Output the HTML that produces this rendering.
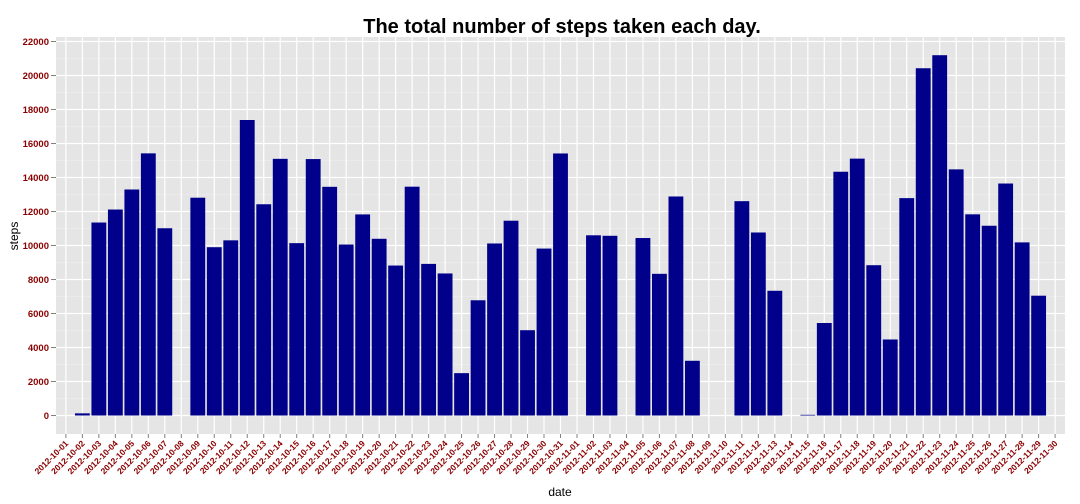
<!DOCTYPE html>
<html><head><meta charset="utf-8"><style>
body{margin:0;background:#fff;}
svg{display:block;font-family:"Liberation Sans",sans-serif;}
</style></head><body>
<svg id="c" width="1080" height="504"></svg>
<script>
const dates=["2012-10-01","2012-10-02","2012-10-03","2012-10-04","2012-10-05","2012-10-06","2012-10-07","2012-10-08","2012-10-09","2012-10-10","2012-10-11","2012-10-12","2012-10-13","2012-10-14","2012-10-15","2012-10-16","2012-10-17","2012-10-18","2012-10-19","2012-10-20","2012-10-21","2012-10-22","2012-10-23","2012-10-24","2012-10-25","2012-10-26","2012-10-27","2012-10-28","2012-10-29","2012-10-30","2012-10-31","2012-11-01","2012-11-02","2012-11-03","2012-11-04","2012-11-05","2012-11-06","2012-11-07","2012-11-08","2012-11-09","2012-11-10","2012-11-11","2012-11-12","2012-11-13","2012-11-14","2012-11-15","2012-11-16","2012-11-17","2012-11-18","2012-11-19","2012-11-20","2012-11-21","2012-11-22","2012-11-23","2012-11-24","2012-11-25","2012-11-26","2012-11-27","2012-11-28","2012-11-29","2012-11-30"];
const steps=[0,126,11352,12116,13294,15420,11015,0,12811,9900,10304,17382,12426,15098,10139,15084,13452,10056,11829,10395,8821,13460,8918,8355,2492,6778,10119,11458,5018,9819,15414,0,10600,10571,0,10439,8334,12883,3219,0,0,12608,10765,7336,0,41,5441,14339,15110,8841,4472,12787,20427,21194,14478,11834,11162,13646,10183,7047,0];
const yTicks=[0,2000,4000,6000,8000,10000,12000,14000,16000,18000,20000,22000];
const NS="http://www.w3.org/2000/svg";
const svg=document.getElementById('c');
const L=56,R=1065,T=37,B=434;
const step=(R-L)/(dates.length-1+1.2);
const xs=i=>L+step*(0.6+i);
const ys=v=>415.5-v*(374/22000);
function mk(t,a,p){const e=document.createElementNS(NS,t);for(const k in a)e.setAttribute(k,a[k]);(p||svg).appendChild(e);return e;}
const panel=mk('rect',{x:L,y:T,width:R-L,height:B-T,fill:'#e5e5e5'});


// minor grid
for(let k=0;k<yTicks.length-1;k++){const v=(yTicks[k]+yTicks[k+1])/2;mk('line',{x1:L,x2:R,y1:ys(v),y2:ys(v),stroke:'#f2f2f2','stroke-width':0.6});}
yTicks.forEach(v=>{
 const g=mk('line',{x1:L,x2:R,y1:ys(v),y2:ys(v),stroke:'#fff','stroke-width':1.2});
 
 
 mk('line',{x1:L-5,x2:L,y1:ys(v),y2:ys(v),stroke:'#7f7f7f','stroke-width':1});
 const t=mk('text',{x:L-7,y:ys(v)+3.5,'text-anchor':'end','font-size':9.5,'font-weight':'bold',fill:'#8b0000'});
 t.textContent=v;
 
 
});
dates.forEach((d,i)=>{
 const x=xs(i);
 mk('line',{x1:x,x2:x,y1:T,y2:B,stroke:'#fff','stroke-width':1.2});
 mk('line',{x1:x,x2:x,y1:B,y2:B+4,stroke:'#7f7f7f','stroke-width':1});
 const t=mk('text',{x:x+3,y:B+10,'text-anchor':'end','font-size':8.5,'font-weight':'bold',fill:'#8b0000',transform:`rotate(-45 ${x+3} ${B+10})`});
 t.textContent=d;
 
 
});
steps.forEach((v,i)=>{
 if(v<=0)return;
 const w=step*0.9;
 const r=mk('rect',{x:xs(i)-w/2,y:ys(v),width:w,height:ys(0)-ys(v),fill:'#00008b'});
 
 
});
const ti=mk('text',{x:562,y:33,'text-anchor':'middle','font-size':20,'font-weight':'bold',fill:'#000'});
ti.textContent='The total number of steps taken each day.';


const xl=mk('text',{x:560,y:496,'text-anchor':'middle','font-size':12,fill:'#000'});
xl.textContent='date';


const yl=mk('text',{x:18,y:236,'text-anchor':'middle','font-size':12,fill:'#000',transform:'rotate(-90 18 236)'});
yl.textContent='steps';


</script>
</body></html>
